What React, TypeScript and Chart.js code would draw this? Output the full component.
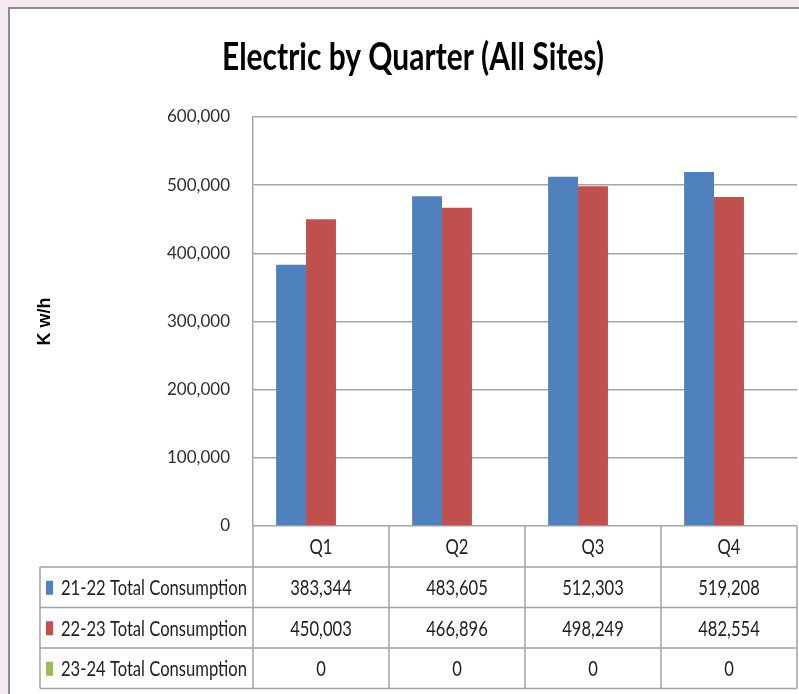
import React, { useEffect, useRef } from "react";
import { Chart, registerables } from "chart.js";

Chart.register(...registerables);

// ---- Data ----
const categories = ["Q1", "Q2", "Q3", "Q4"];
const seriesLabels = [
  "21-22 Total Consumption",
  "22-23 Total Consumption",
  "23-24 Total Consumption",
];
const consumption2122 = [383344, 483605, 512303, 519208];
const consumption2223 = [450003, 466896, 498249, 482554];
const consumption2324 = [0, 0, 0, 0];
const yMin = 0;
const yMax = 600000;
const yStep = 100000;
const chartTitle = "Electric by Quarter (All Sites)";
const yAxisTitle = "K w/h";

const seriesColors = ["#4f81bd", "#c0504d", "#9bbb59"];
const BODY_FONT = "Lato, 'Open Sans', sans-serif";
const BOLD_FONT = "'Liberation Sans', Arial, sans-serif";

const fmt = (v: number) => v.toLocaleString("en-US");

const backgroundPlugin = {
  id: "bgFrame",
  beforeDraw(chart: any) {
    const ctx = chart.ctx as CanvasRenderingContext2D;
    const W = chart.width;
    const H = chart.height;
    ctx.save();
    ctx.fillStyle = "#f4e8f1";
    ctx.fillRect(0, 0, W, H);
    ctx.fillStyle = "#ffffff";
    ctx.fillRect(9, 8, W - 9, H - 8);
    ctx.strokeStyle = "#8c8c8c";
    ctx.lineWidth = 2;
    ctx.beginPath();
    ctx.moveTo(9, H);
    ctx.lineTo(9, 8);
    ctx.lineTo(W, 8);
    ctx.stroke();

    // Title, fitted to the reference width
    ctx.fillStyle = "#000000";
    ctx.font = `bold 38px ${BODY_FONT}`;
    ctx.textAlign = "left";
    ctx.textBaseline = "alphabetic";
    const measured = ctx.measureText(chartTitle).width;
    const targetW = 382;
    const sx = targetW / measured;
    const cx = 413;
    ctx.translate(cx - targetW / 2, 70);
    ctx.scale(sx, 1);
    ctx.fillText(chartTitle, 0, 0);
    ctx.restore();
  },
};

const tablePlugin = {
  id: "dataTable",
  afterDraw(chart: any) {
    const ctx = chart.ctx as CanvasRenderingContext2D;
    const area = chart.chartArea;
    const xs = chart.scales.x;
    const n = categories.length;
    const cw = (area.right - area.left) / n;
    const bounds: number[] = [];
    for (let i = 0; i < n; i++) bounds.push(xs.getPixelForValue(i) - cw / 2);
    bounds.push(xs.getPixelForValue(n - 1) + cw / 2);

    const headerTop = area.bottom;
    const headerBottom = headerTop + 41;
    const rowH = 40.5;
    const tableLeft = 40;
    const rows = [consumption2122, consumption2223, consumption2324];
    const tableBottom = headerBottom + rowH * rows.length;

    ctx.save();
    ctx.strokeStyle = "#a3a3a3";
    ctx.lineWidth = 1.5;
    ctx.beginPath();
    bounds.forEach((x) => {
      ctx.moveTo(x, headerTop);
      ctx.lineTo(x, tableBottom);
    });
    ctx.moveTo(tableLeft, headerBottom);
    ctx.lineTo(tableLeft, tableBottom);
    for (let r = 0; r <= rows.length; r++) {
      const y = headerBottom + r * rowH;
      ctx.moveTo(tableLeft, y);
      ctx.lineTo(bounds[n], y);
    }
    ctx.stroke();

    ctx.font = `21px ${BODY_FONT}`;
    ctx.textBaseline = "middle";
    // horizontal squeeze so the legend labels fit their reference width
    const labelW = ctx.measureText(seriesLabels[0]).width;
    const sx = Math.min(1, 186 / labelW);

    const drawText = (t: string, x: number, y: number, align: "left" | "center") => {
      const w = ctx.measureText(t).width * sx;
      const x0 = align === "center" ? x - w / 2 : x;
      ctx.save();
      ctx.translate(x0, y);
      ctx.scale(sx, 1);
      ctx.textAlign = "left";
      ctx.fillText(t, 0, 0);
      ctx.restore();
    };

    ctx.fillStyle = "#1f1f1f";
    categories.forEach((c, i) => {
      drawText(c, xs.getPixelForValue(i), (headerTop + headerBottom) / 2 + 1, "center");
    });
    rows.forEach((vals, r) => {
      const cy = headerBottom + r * rowH + rowH / 2 + 1;
      ctx.fillStyle = seriesColors[r];
      ctx.fillRect(46, cy - 7.5, 7, 14);
      ctx.fillStyle = "#1f1f1f";
      drawText(seriesLabels[r], 61, cy, "left");
      vals.forEach((v, i) => {
        drawText(fmt(v), xs.getPixelForValue(i), cy, "center");
      });
    });
    ctx.restore();
  },
};

export default function App() {
  const canvasRef = useRef<HTMLCanvasElement | null>(null);

  useEffect(() => {
    const canvas = canvasRef.current;
    if (!canvas) return;
    const chart = new Chart(canvas, {
      type: "bar",
      data: {
        labels: categories,
        datasets: [
          { label: seriesLabels[0], data: consumption2122, backgroundColor: seriesColors[0] },
          { label: seriesLabels[1], data: consumption2223, backgroundColor: seriesColors[1] },
          { label: seriesLabels[2], data: consumption2324, backgroundColor: seriesColors[2] },
        ],
      },
      options: {
        responsive: false,
        animation: false,
        devicePixelRatio: 1,
        layout: { padding: { left: 34, top: 117, right: 2, bottom: 168 } },
        datasets: {
          bar: { categoryPercentage: 0.66, barPercentage: 1, borderWidth: 0 },
        },
        plugins: {
          legend: { display: false },
          title: { display: false },
          tooltip: { enabled: false },
        },
        scales: {
          x: {
            display: false,
            offset: true,
          },
          y: {
            min: yMin,
            max: yMax,
            ticks: {
              stepSize: yStep,
              padding: 23,
              color: "#2e2e2e",
              font: { family: BODY_FONT, size: 17 },
              callback: (v: any) => fmt(Number(v)),
            },
            grid: { color: "#a6a6a6", lineWidth: 1.5, drawTicks: false },
            border: { display: true, color: "#a6a6a6", width: 1.5 },
            title: {
              display: true,
              text: yAxisTitle,
              color: "#000000",
              font: { family: BOLD_FONT, size: 18, weight: "bold" },
              padding: { top: 0, bottom: 0 },
            },
            afterFit: (s: any) => {
              s.width = 253 - 34;
            },
          },
        },
      },
      plugins: [backgroundPlugin, tablePlugin],
    } as any);
    return () => chart.destroy();
  }, []);

  return (
    <div style={{ position: "fixed", left: 0, top: 0, width: 799, height: 694 }}>
      <canvas ref={canvasRef} width={799} height={694} />
    </div>
  );
}
